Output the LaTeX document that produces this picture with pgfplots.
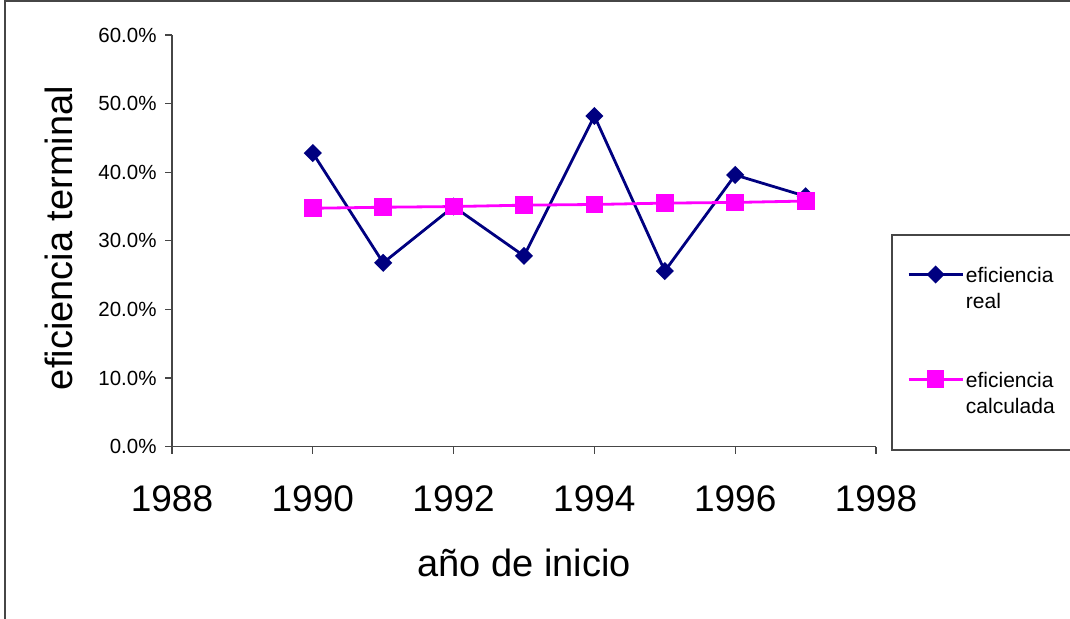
\documentclass[border=0pt]{standalone}
\usepackage{fontspec}
\setmainfont{Liberation Sans}
\usepackage{pgfplots}
\pgfplotsset{compat=1.18}
\definecolor{navyreal}{RGB}{0,0,128}
\definecolor{magcalc}{RGB}{255,0,255}
\definecolor{axgray}{RGB}{70,70,70}
\begin{document}
\begin{tikzpicture}
\begin{axis}[
    at={(0,0)}, anchor=south west,
    scale only axis,
    width=704bp, height=411.7bp,
    xmin=1988, xmax=1998,
    ymin=0, ymax=60,
    xtick={1988,1990,...,1998},
    ytick={0,10,...,60},
    axis x line=bottom, axis y line=left,
    axis line style={-, axgray, line width=1.2bp},
    tick style={axgray, line width=1.2bp},
    tick align=outside,
    major tick length=7bp,
    /pgf/number format/assume math mode=true,
    /pgf/number format/1000 sep={},
    yticklabel={\pgfmathprintnumber[fixed,fixed zerofill,precision=1]{\tick}\%},
    yticklabel style={font=\fontsize{20.5bp}{24bp}\selectfont, xshift=-5bp},
    xticklabel style={font=\fontsize{37bp}{44bp}\selectfont, yshift=-28bp},
    xlabel={año de inicio},
    ylabel={eficiencia terminal},
    xlabel style={font=\fontsize{38bp}{45bp}\selectfont, at={(axis description cs:0.5,-0.3158)}, anchor=base},
    ylabel style={font=\fontsize{38bp}{45bp}\selectfont, at={(axis description cs:-0.142,0.507)}, anchor=base, rotate=0},
    legend style={
        at={(axis description cs:1.0227,0.514)}, anchor=north west,
        draw=none, fill=none,
        font=\fontsize{21bp}{26bp}\selectfont,
        inner xsep=15bp, inner ysep=30bp,
        row sep=84bp,
        cells={anchor=west},
    },
    legend image code/.code={%
        \draw[mark repeat=2,mark phase=2,#1] plot coordinates {(0bp,8bp) (27bp,8bp) (54bp,8bp)};
    },
]
\addplot[color=navyreal, line width=2.8bp, mark=square*, mark size=5bp,
    mark options={rotate=45, solid}] coordinates {
    (1990,42.8) (1991,26.8) (1992,35.0) (1993,27.8)
    (1994,48.2) (1995,25.6) (1996,39.6) (1997,36.5)
};
\addlegendentry[text width=100bp, align=left, anchor=base west, xshift=3bp]{eficiencia\\real}
\addplot[color=magcalc, line width=2.8bp, mark=square*, mark size=7.5bp,
    mark options={solid}] coordinates {
    (1990,34.75) (1991,34.9) (1992,35.0) (1993,35.2)
    (1994,35.3) (1995,35.5) (1996,35.6) (1997,35.8)
};
\addlegendentry[text width=100bp, align=left, anchor=base west, xshift=3bp]{eficiencia\\calculada}
\end{axis}
% legend box and outer chart frame
\draw[axgray, line width=1.2bp] (720bp,211.7bp) rectangle (1000bp,-3.3bp);
\draw[axgray, line width=1.2bp] (-167bp,445.7bp) rectangle (1000bp,-300bp);
\pgfresetboundingbox
\useasboundingbox (-172bp,-172.3bp) rectangle (898bp,446.7bp);
\end{tikzpicture}
\end{document}
